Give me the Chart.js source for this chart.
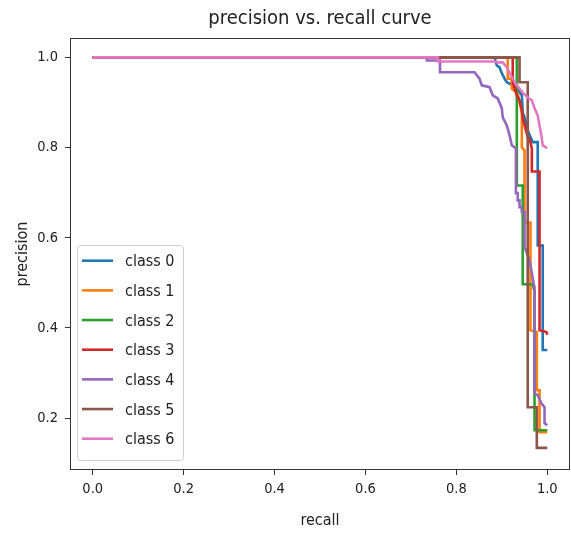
<!DOCTYPE html>
<html><head><meta charset="utf-8">
<script src="https://cdn.jsdelivr.net/npm/chart.js@4.4.0/dist/chart.umd.min.js"></script>
<style>html,body{margin:0;padding:0;background:#fff}#wrap{width:571px;height:533px}</style>
</head><body><div id="wrap"><canvas id="c" width="571" height="533"></canvas></div>
<script>
const classNames = ["class 0","class 1","class 2","class 3","class 4","class 5","class 6"];
const classColors = ["#1f77b4","#ff7f0e","#2ca02c","#d62728","#9467bd","#8c564b","#e377c2"];

const recall0    = [0, 0.884, 0.889, 0.895, 0.900, 0.906, 0.911, 0.920, 0.935, 0.944, 0.946, 0.950, 0.957, 0.968, 0.979, 0.979, 0.990, 0.990, 1.0];
const precision0 = [1, 1.000, 0.982, 0.978, 0.965, 0.953, 0.945, 0.940, 0.930, 0.916, 0.878, 0.867, 0.838, 0.812, 0.812, 0.583, 0.583, 0.351, 0.351];

const recall1    = [0, 0.913, 0.913, 0.922, 0.922, 0.935, 0.944, 0.944, 0.950, 0.950, 0.963, 0.963, 0.977, 0.977, 0.983, 0.983, 1.0];
const precision1 = [1, 1.000, 0.953, 0.953, 0.930, 0.920, 0.878, 0.800, 0.794, 0.634, 0.634, 0.395, 0.391, 0.262, 0.262, 0.169, 0.169];

const recall2    = [0, 0.933, 0.933, 0.946, 0.946, 0.968, 0.972, 0.972, 1.0];
const precision2 = [1, 1.000, 0.716, 0.716, 0.497, 0.497, 0.480, 0.173, 0.173];

const recall3    = [0, 0.924, 0.924, 0.933, 0.939, 0.944, 0.946, 0.957, 0.961, 0.966, 0.966, 0.983, 0.983, 0.998, 1.0];
const precision3 = [1, 1.000, 0.945, 0.916, 0.905, 0.883, 0.865, 0.823, 0.820, 0.798, 0.747, 0.747, 0.395, 0.391, 0.385];

const recall4    = [0, 0.735, 0.735, 0.764, 0.764, 0.840, 0.851, 0.856, 0.873, 0.880, 0.891, 0.900, 0.902, 0.911, 0.917, 0.922, 0.931, 0.931, 0.935, 0.935, 0.939, 0.939, 0.944, 0.944, 0.950, 0.950, 0.961, 0.970, 0.972, 0.972, 0.979, 0.987, 0.994, 0.994, 1.0];
const precision4 = [1, 1.000, 0.993, 0.993, 0.967, 0.967, 0.953, 0.938, 0.934, 0.916, 0.909, 0.887, 0.867, 0.849, 0.827, 0.805, 0.798, 0.699, 0.699, 0.683, 0.683, 0.668, 0.668, 0.657, 0.657, 0.580, 0.550, 0.499, 0.490, 0.255, 0.251, 0.233, 0.224, 0.189, 0.184];

const recall5    = [0, 0.939, 0.939, 0.957, 0.957, 0.977, 0.977, 1.0];
const precision5 = [1, 1.000, 0.945, 0.945, 0.224, 0.224, 0.134, 0.134];

const recall6    = [0, 0.759, 0.759, 0.884, 0.891, 0.902, 0.911, 0.922, 0.933, 0.946, 0.957, 0.966, 0.972, 0.979, 0.983, 0.987, 0.990, 0.998, 1.0];
const precision6 = [1, 1.000, 0.991, 0.991, 0.989, 0.989, 0.978, 0.956, 0.938, 0.922, 0.911, 0.905, 0.887, 0.871, 0.849, 0.827, 0.805, 0.800, 0.800];

const xTickValues = [0.0, 0.2, 0.4, 0.6, 0.8, 1.0];
const yTickValues = [0.2, 0.4, 0.6, 0.8, 1.0];

const recalls = [recall0, recall1, recall2, recall3, recall4, recall5, recall6];
const precisions = [precision0, precision1, precision2, precision3, precision4, precision5, precision6];

const FAMILY = '"DejaVu Sans Condensed", "DejaVu Sans", sans-serif';
const TEXT = '#222';

const datasets = classNames.map((name, i) => ({
  label: name,
  data: recalls[i].map((r, k) => ({x: r, y: precisions[i][k]})),
  borderColor: classColors[i],
  backgroundColor: classColors[i],
  borderWidth: 2.6,
  pointRadius: 0,
  showLine: true,
  fill: false,
  tension: 0,
  order: classNames.length - 1 - i
}));

const framePlugin = {
  id: 'frame',
  afterDraw(chart) {
    const {ctx, chartArea: a} = chart;
    ctx.save();
    ctx.strokeStyle = '#333';
    ctx.lineWidth = 1;
    ctx.strokeRect(a.left + 0.5, a.top + 0.5, a.right - a.left - 1, a.bottom - a.top - 1);
    // legend
    const bx = 77.5, by = 245.5, bw = 106, bh = 215;
    ctx.beginPath();
    ctx.roundRect(bx, by, bw, bh, 3);
    ctx.fillStyle = 'rgba(255,255,255,0.8)';
    ctx.fill();
    ctx.strokeStyle = '#d0d0d0';
    ctx.stroke();
    ctx.font = '16px ' + FAMILY;
    ctx.textBaseline = 'middle';
    ctx.textAlign = 'left';
    chart.data.datasets.forEach((ds, i) => {
      const y = 260.7 + i * 29.67;
      ctx.beginPath();
      ctx.strokeStyle = ds.borderColor;
      ctx.lineWidth = 2.6;
      ctx.moveTo(82, y);
      ctx.lineTo(113, y);
      ctx.stroke();
      ctx.fillStyle = TEXT;
      ctx.fillText(ds.label, 125, y + 1.5);
    });
    ctx.restore();
  }
};

new Chart(document.getElementById('c'), {
  type: 'scatter',
  data: {datasets},
  options: {
    responsive: false,
    animation: false,
    devicePixelRatio: 1,
    layout: {padding: {left: 0, right: 1, top: 0, bottom: 0}},
    plugins: {
      legend: {display: false},
      tooltip: {enabled: false},
      title: {
        display: true,
        text: 'precision vs. recall curve',
        fullSize: false,
        color: TEXT,
        font: {family: FAMILY, size: 20, weight: 'normal', lineHeight: 1.2},
        padding: {top: 7, bottom: 7}
      }
    },
    scales: {
      x: {
        type: 'linear',
        min: -0.05, max: 1.05,
        afterBuildTicks(s) { s.ticks = xTickValues.map(v => ({value: v})); },
        afterFit(s) { s.height = 63; },
        grid: {drawOnChartArea: false, drawTicks: true, tickLength: 5, color: '#333'},
        border: {display: false},
        ticks: {color: TEXT, font: {family: FAMILY, size: 14.5}, padding: 6, maxRotation: 0,
                callback: v => Number(v).toFixed(1)},
        title: {display: true, text: 'recall', color: TEXT,
                font: {family: FAMILY, size: 16, lineHeight: 1.2}, padding: {top: 0, bottom: 3}}
      },
      y: {
        type: 'linear',
        min: 0.085, max: 1.043,
        afterBuildTicks(s) { s.ticks = yTickValues.map(v => ({value: v})); },
        afterFit(s) { s.width = 70; },
        grid: {drawOnChartArea: false, drawTicks: true, tickLength: 5, color: '#333'},
        border: {display: false},
        ticks: {color: TEXT, font: {family: FAMILY, size: 14.5}, padding: 7,
                callback: v => Number(v).toFixed(1)},
        title: {display: true, text: 'precision', color: TEXT,
                font: {family: FAMILY, size: 16, lineHeight: 1.2}, padding: {top: 13, bottom: 0}}
      }
    }
  },
  plugins: [framePlugin]
});
</script></body></html>
